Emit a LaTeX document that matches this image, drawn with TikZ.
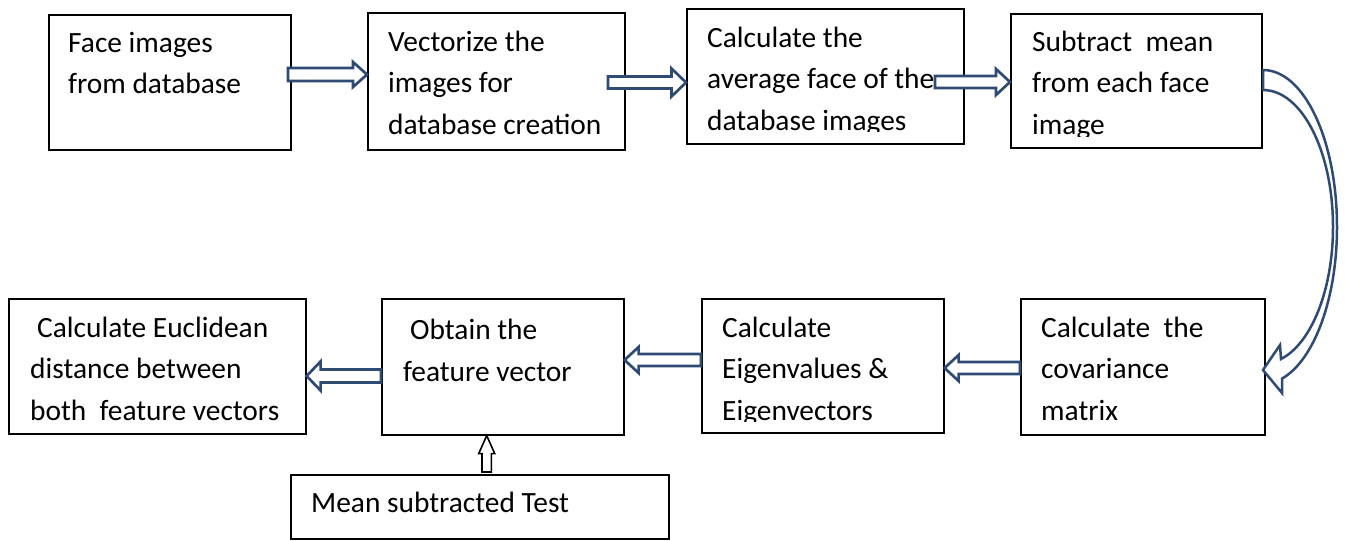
\documentclass[tikz,border=0pt]{standalone}
\usepackage{fontspec}
\setmainfont{Carlito}
\usetikzlibrary{calc}
\definecolor{arrowblue}{RGB}{47,75,115}
\tikzset{
  box/.style={draw=black, line width=1.6pt, fill=white, inner sep=0pt, anchor=north west},
  txt/.style={anchor=base west, align=left, inner sep=0pt, font=\fontsize{29.4}{41.5}\selectfont},
  blockarrow/.style={draw=arrowblue, line width=2.7pt, fill=white, line join=miter},
  blackarrow/.style={draw=black, line width=1.6pt, fill=white, line join=miter}
}
% block arrow: style, tail, tip, shaft half, head half, head length
\newcommand\harrow[6]{%
  \coordinate (hb) at ($(#3)!#6!(#2)$);
  \draw[#1] ($(#2)+(0,#4)$) -- ($(hb)+(0,#4)$) -- ($(hb)+(0,#5)$) -- (#3)
    -- ($(hb)+(0,-#5)$) -- ($(hb)+(0,-#4)$) -- ($(#2)+(0,-#4)$) -- cycle;}
\newcommand\varrow[6]{%
  \coordinate (hb) at ($(#3)!#6!(#2)$);
  \draw[#1] ($(#2)+(#4,0)$) -- ($(hb)+(#4,0)$) -- ($(hb)+(#5,0)$) -- (#3)
    -- ($(hb)+(-#5,0)$) -- ($(hb)+(-#4,0)$) -- ($(#2)+(-#4,0)$) -- cycle;}
\begin{document}
\begin{tikzpicture}[x=1pt,y=-1pt]
\useasboundingbox (0,0) rectangle (1345,541);
% boxes
\node[box, minimum width=242pt, minimum height=135pt] (b1) at (48,14) {};
\node[box, minimum width=257pt, minimum height=137pt] (b2) at (367,12) {};
\node[box, minimum width=277pt, minimum height=135pt] (b3) at (686,8) {};
\node[box, minimum width=251pt, minimum height=134pt] (b4) at (1010,13) {};
\node[box, minimum width=244pt, minimum height=136pt] (b5) at (1020,298) {};
\node[box, minimum width=242pt, minimum height=134pt] (b6) at (701,298) {};
\node[box, minimum width=242pt, minimum height=136pt] (b7) at (381,298) {};
\node[box, minimum width=297pt, minimum height=135pt] (b8) at (8,298) {};
\node[box, minimum width=378pt, minimum height=64pt] (b9) at (290,474) {};
% texts (anchor = baseline of the last line)
\node[txt] (t1) at (68,93.5) {Face images\\from database};
\node[txt] (t2) at (388,134) {Vectorize the\\images for\\database creation};
\begin{scope}
  \clip (686,8) rectangle (963,131.5);
  \node[txt] (t3) at (707,130) {Calculate the\\average face of the\\database images};
\end{scope}
\begin{scope}
  \clip (1010,13) rectangle (1261,136);
  \node[txt] (t4) at (1032,134) {Subtract\ \ mean\\from each face\\image};
\end{scope}
\node[txt] (t5) at (1041,420) {Calculate\ \ the\\covariance\\matrix};
\begin{scope}
  \clip (701,298) rectangle (943,421);
  \node[txt] (t6) at (722,420) {Calculate\\Eigenvalues \&\\Eigenvectors};
\end{scope}
\node[txt] (t7) at (403,381) {\hspace*{7pt}Obtain the\\feature vector};
\node[txt] (t8) at (30,420) {\hspace*{7pt}Calculate Euclidean\\distance between\\both\ \ feature vectors};
\node[txt] (t9) at (311,512) {Mean subtracted Test};
% straight block arrows
\coordinate (a1t) at (288,74.5);
\coordinate (a1h) at (b2.west |- a1t);
\harrow{blockarrow}{a1t}{a1h}{6.5}{12.5}{14pt}
\coordinate (a2t) at (608,82.5);
\coordinate (a2h) at (b3.west |- a2t);
\harrow{blockarrow}{a2t}{a2h}{6}{14}{14.5pt}
\coordinate (a3t) at (935,82);
\coordinate (a3h) at (b4.west |- a3t);
\harrow{blockarrow}{a3t}{a3h}{6}{13}{14pt}
\coordinate (c1t) at (b5.west |- 0,368);
\coordinate (c1h) at (b6.east |- c1t);
\harrow{blockarrow}{c1t}{c1h}{6}{13}{14pt}
\coordinate (c2t) at (b6.west |- 0,360);
\coordinate (c2h) at (b7.east |- c2t);
\harrow{blockarrow}{c2t}{c2h}{6}{13}{14pt}
\coordinate (c3t) at (b7.west |- 0,376);
\coordinate (c3h) at (b8.east |- c3t);
\harrow{blockarrow}{c3t}{c3h}{6.5}{14.5}{14pt}
\coordinate (ut) at (486.7,472);
\coordinate (uh) at (ut |- b7.south);
\varrow{blackarrow}{ut}{uh}{4.7}{8}{18pt}
% curved block arrow
\coordinate (k1) at (1263,70);
\coordinate (k2) at (1263,90);
\draw[blockarrow, line width=2.5pt] (k1) .. controls (1304,70) and (1337,140) .. (1337,227)
  .. controls (1337,298) and (1314.5,360) .. (1282,378.6)
  -- (1282,393) -- (1263,370) -- (1280,345) -- (1281,359)
  .. controls (1311.7,343.3) and (1333,289) .. (1333,227)
  .. controls (1333,151.3) and (1301.7,90) .. (k2) -- cycle;
\end{tikzpicture}
\end{document}
